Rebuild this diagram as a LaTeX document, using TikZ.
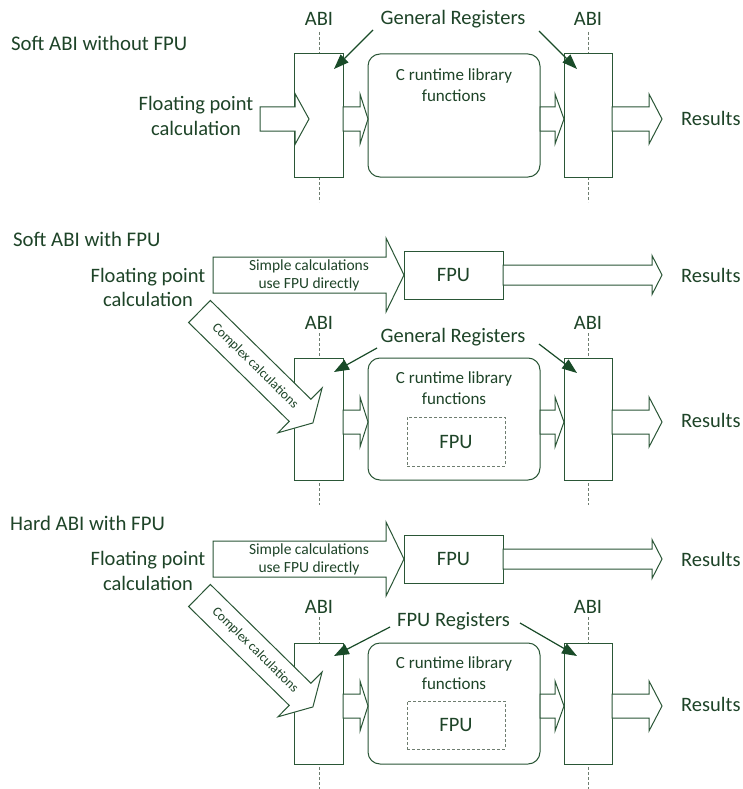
\documentclass[tikz,border=0pt]{standalone}
\usepackage{fontspec}
\setmainfont{Carlito}
\usetikzlibrary{arrows.meta}
\definecolor{ln}{RGB}{42,86,54}
\definecolor{tx}{RGB}{30,68,40}
\definecolor{dk}{RGB}{25,75,40}
\definecolor{dsh}{RGB}{110,125,112}
\tikzset{
 box/.style={draw=ln, line width=1pt, fill=white, inner sep=0pt},
 rbox/.style={draw=ln, line width=1pt, fill=white, rounded corners=12pt, inner sep=0pt},
 blk/.style={draw=ln, line width=1pt, fill=white, line join=miter},
 abiline/.style={draw=dsh, line width=1pt, dash pattern=on 3pt off 2pt},
 fpubox/.style={draw=dsh, line width=1pt, dash pattern=on 3pt off 2pt, inner sep=0pt},
 lbl/.style={text=tx, inner sep=0pt, font=\fontsize{20.5}{24.5}\selectfont, align=center},
 rlbl/.style={lbl, anchor=west},
 ttl/.style={text=tx, inner sep=0pt, font=\fontsize{20.8}{25}\selectfont, anchor=west},
 crt/.style={text=tx, inner sep=0pt, font=\fontsize{17}{21}\selectfont, align=center},
 sml/.style={text=tx, inner sep=0pt, font=\fontsize{15.5}{18}\selectfont, align=center},
 cpx/.style={text=tx, inner sep=0pt, font=\fontsize{13.5}{16}\selectfont},
 reg/.style={draw=dk, line width=1.2pt, -{Triangle[length=15pt,width=11pt]}},
}
% x1, xbase, xtip, ycenter, shaft half, head half
\newcommand\harrow[6]{\draw[blk] (#1,#4-#5) -- (#2,#4-#5) -- (#2,#4-#6) -- (#3,#4) -- (#2,#4+#6) -- (#2,#4+#5) -- (#1,#4+#5) -- cycle;}
\begin{document}
\begin{tikzpicture}[x=1pt,y=-1pt]
\path[use as bounding box, fill=white] (0,0) rectangle (743,789);

% ---------------- Row 1 ----------------
\node[ttl] (t1) at (11,43) {Soft ABI without FPU};
\node[lbl] (abi1l) at (319,19) {ABI};
\node[lbl] (abi1r) at (588,19) {ABI};
\coordinate (d1a) at (319,32); \coordinate (d1b) at (319,202);
\coordinate (d1c) at (588,32); \coordinate (d1d) at (588,202);
\draw[abiline] (d1a) -- (d1b);
\draw[abiline] (d1c) -- (d1d);
\node[box, minimum width=49, minimum height=123] (L1) at (318.5,115.5) {};
\node[rbox, minimum width=172, minimum height=123] (C1) at (454,115.5) {};
\node[box, minimum width=48, minimum height=123] (R1) at (588,115.5) {};
\node[crt] (c1t) at (454,85.5) {C runtime library\\functions};
\harrow{260}{295}{309}{119}{12}{25.5}
\harrow{343}{360}{368}{119}{12}{25}
\harrow{540}{555}{564}{119}{12}{25}
\harrow{612}{649}{662}{119}{12}{25}
\node[lbl] (fp1) at (196,116) {Floating point\\calculation};
\node[lbl] (gr1) at (453,19) {General Registers};
\node[rlbl] (res1) at (681,118) {Results};
\coordinate (g1a) at (373,30); \coordinate (g1b) at (334,69);
\coordinate (g1c) at (539,31); \coordinate (g1d) at (577,69);
\draw[reg] (g1a) -- (g1b);
\draw[reg] (g1c) -- (g1d);

% ---------------- Row 2 ----------------
\node[ttl] (t2) at (13,239) {Soft ABI with FPU};
\node[lbl] (fp2) at (148,287.5) {Floating point\\calculation};
\draw[blk] (213,257) -- (386,257) -- (386,238) -- (404,275) -- (386,312) -- (386,293) -- (213,293) -- cycle;
\node[sml] (s2) at (309,275) {Simple calculations\\use FPU directly};
\node[box, minimum width=99, minimum height=48] (F2) at (453.5,275) {};
\node[lbl] (f2t) at (F2.center) {FPU};
\harrow{503}{652}{662}{275}{10}{19.5}
\node[rlbl] (res2a) at (681,275) {Results};
\node[lbl] (abi2l) at (319,323) {ABI};
\node[lbl] (abi2r) at (588,323) {ABI};
\coordinate (d2a) at (319,333); \coordinate (d2b) at (319,505);
\coordinate (d2c) at (588,333); \coordinate (d2d) at (588,505);
\draw[abiline] (d2a) -- (d2b);
\draw[abiline] (d2c) -- (d2d);
\node[box, minimum width=49, minimum height=122] (L2) at (318.5,419) {};
\node[rbox, minimum width=172, minimum height=122] (C2) at (454,419) {};
\node[box, minimum width=48, minimum height=122] (R2) at (588,419) {};
\node[crt] (c2t) at (454,388.5) {C runtime library\\functions};
\node[fpubox, minimum width=98, minimum height=49] (FI2) at (456,441.5) {};
\node[lbl] (fi2t) at (FI2.center) {FPU};
\harrow{343}{360}{368}{422}{12}{25}
\harrow{540}{555}{564}{422}{12}{25}
\harrow{612}{649}{662}{422}{12}{25}
\node[rlbl] (res2b) at (681,420) {Results};
\begin{scope}[shift={(199.5,311.5)}, rotate=-44.5]
 \draw[blk] (0,-15.5) -- (141,-15.5) -- (141,-31.5) -- (159,0) -- (141,31.5) -- (141,15.5) -- (0,15.5) -- cycle;
 \node[cpx, transform shape] (cx2) at (78,0) {Complex calculations};
\end{scope}
\node[lbl] (gr2) at (453,337) {General Registers};
\coordinate (g2a) at (377,348); \coordinate (g2b) at (334,372);
\coordinate (g2c) at (539,344); \coordinate (g2d) at (577,373);
\draw[reg] (g2a) -- (g2b);
\draw[reg] (g2c) -- (g2d);

% ---------------- Row 3 ----------------
\node[ttl] (t3) at (10,523) {Hard ABI with FPU};
\node[lbl] (fp3) at (148,571) {Floating point\\calculation};
\draw[blk] (213,541) -- (386,541) -- (386,522) -- (404,559) -- (386,596) -- (386,577) -- (213,577) -- cycle;
\node[sml] (s3) at (309,559) {Simple calculations\\use FPU directly};
\node[box, minimum width=99, minimum height=48] (F3) at (453.5,559) {};
\node[lbl] (f3t) at (F3.center) {FPU};
\harrow{503}{652}{662}{559}{10}{19.5}
\node[rlbl] (res3a) at (681,559) {Results};
\node[lbl] (abi3l) at (319,607) {ABI};
\node[lbl] (abi3r) at (588,607) {ABI};
\coordinate (d3a) at (319,617); \coordinate (d3b) at (319,789);
\coordinate (d3c) at (588,617); \coordinate (d3d) at (588,789);
\draw[abiline] (d3a) -- (d3b);
\draw[abiline] (d3c) -- (d3d);
\node[box, minimum width=49, minimum height=121] (L3) at (318.5,703.5) {};
\node[rbox, minimum width=172, minimum height=121] (C3) at (454,703.5) {};
\node[box, minimum width=48, minimum height=121] (R3) at (588,703.5) {};
\node[crt] (c3t) at (454,673) {C runtime library\\functions};
\node[fpubox, minimum width=98, minimum height=48] (FI3) at (456,725) {};
\node[lbl] (fi3t) at (FI3.center) {FPU};
\harrow{343}{360}{368}{706}{12}{25}
\harrow{540}{555}{564}{706}{12}{25}
\harrow{612}{649}{662}{706}{12}{25}
\node[rlbl] (res3b) at (681,704) {Results};
\begin{scope}[shift={(199.5,595.5)}, rotate=-44.5]
 \draw[blk] (0,-15.5) -- (141,-15.5) -- (141,-31.5) -- (159,0) -- (141,31.5) -- (141,15.5) -- (0,15.5) -- cycle;
 \node[cpx, transform shape] (cx3) at (78,0) {Complex calculations};
\end{scope}
\node[lbl] (gr3) at (453.5,621) {FPU Registers};
\coordinate (g3a) at (390,627); \coordinate (g3b) at (334,656);
\coordinate (g3c) at (520,623); \coordinate (g3d) at (577,656);
\draw[reg] (g3a) -- (g3b);
\draw[reg] (g3c) -- (g3d);
\end{tikzpicture}
\end{document}
